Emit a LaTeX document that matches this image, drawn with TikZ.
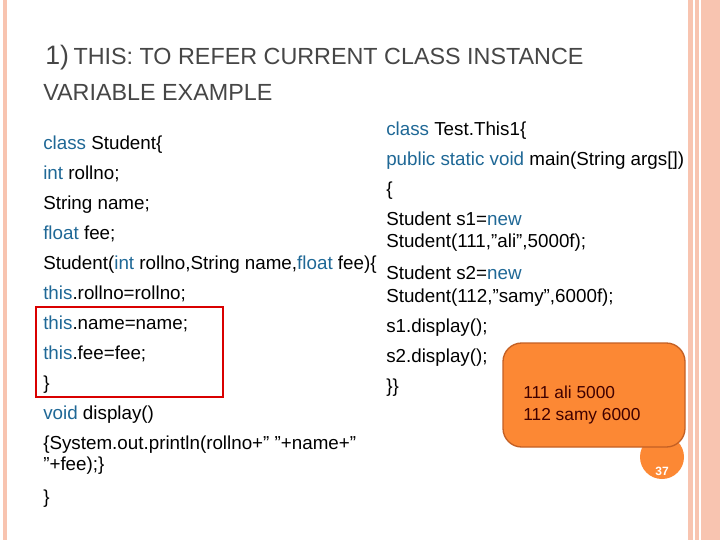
\documentclass[tikz,border=0pt]{standalone}
\usepackage{fontspec}
\setmainfont{Liberation Sans}
\usetikzlibrary{positioning}
\definecolor{kwblue}{RGB}{31,104,150}
\definecolor{titlegray}{RGB}{70,70,70}
\definecolor{peach}{RGB}{248,196,176}
\definecolor{outorange}{RGB}{252,136,52}
\definecolor{outedge}{RGB}{196,96,36}
\newcommand{\kw}[1]{\textcolor{kwblue}{#1}}
\newcommand{\q}{\symbol{34}}

\begin{document}
\begin{tikzpicture}[x=0.75pt,y=-0.75pt]
\tikzstyle{code}=[anchor=base west, inner sep=0pt, font=\fontsize{14.1}{16}\selectfont]
\tikzstyle{title}=[anchor=base west, inner sep=0pt, text=titlegray]
\tikzstyle{strip}=[fill=peach, draw=none]

  \useasboundingbox (0,0) rectangle (720,540);
  \fill[white] (0,0) rectangle (720,540);

  % side strips
  \fill[strip] (3,0) rectangle (7,540);
  \fill[strip] (688,0) rectangle (720,540);
  \draw[white, line width=0.8pt] (694,0) -- (694,540);
  \draw[white, line width=0.8pt] (700,0) -- (700,540);

  % title
  \node[title, font=\fontsize{20}{22}\selectfont] (num) at (45,64) {1)};
  \node[title, font=\fontsize{17.5}{20}\selectfont, right=3pt of num.base east, anchor=base west] (head) {THIS: TO REFER CURRENT CLASS INSTANCE};
  \node[title, font=\fontsize{17.5}{20}\selectfont] (head2) at (43,100) {VARIABLE EXAMPLE};

  % class Student
  \node[code] (l1)  at (43,149) {\kw{class} Student\{};
  \node[code] (l2)  at (43,179) {\kw{int} rollno;};
  \node[code] (l3)  at (43,209) {String name;};
  \node[code] (l4)  at (43,239) {\kw{float} fee;};
  \node[code] (l5)  at (43,269) {Student(\kw{int} rollno,String name,\kw{float} fee)\{};
  \node[code] (l6)  at (43,299) {\kw{this}.rollno=rollno;};
  \node[code] (l7)  at (43,329) {\kw{this}.name=name;};
  \node[code] (l8)  at (43,359) {\kw{this}.fee=fee;};
  \node[code] (l9)  at (43,389) {\}};
  \node[code] (l10) at (43,419) {\kw{void} display()};
  \node[code] (l11) at (43,449) {\{System.out.println(rollno+\q{} \q{}+name+\q};
  \node[code] (l12) at (43,470) {\q{}+fee);\}};
  \node[code] (l13) at (43,503) {\}};

  % class TestThis1
  \node[code] (r1)  at (386,135) {\kw{class} Test.This1\{};
  \node[code] (r2)  at (386,165) {\kw{public static void} main(String args[])};
  \node[code] (r3)  at (386,195) {\{};
  \node[code] (r4)  at (386,225) {Student s1=\kw{new}};
  \node[code] (r5)  at (386,247) {Student(111,\q{}ali\q{},5000f);};
  \node[code] (r6)  at (386,279) {Student s2=\kw{new}};
  \node[code] (r7)  at (386,302) {Student(112,\q{}samy\q{},6000f);};
  \node[code] (r8)  at (386,332) {s1.display();};
  \node[code] (r9)  at (386,362) {s2.display();};
  \node[code] (r10) at (386,392) {\}\}};

  % highlight
  \draw[red!85!black, line width=1.8pt] (36,307) rectangle (223,397);

  % output box
  \fill[outorange] (662,457) circle (22);
  \node[font=\bfseries\fontsize{9}{10}\selectfont, text=white] (page) at (662,471) {37};
  \draw[outedge, fill=outorange, line width=1pt, rounded corners=14pt] (503,343) rectangle (685,447);
  \node[code, text=black!75!red, font=\fontsize{13}{15}\selectfont] (o1) at (523,398) {111 ali 5000};
  \node[code, text=black!75!red, font=\fontsize{13}{15}\selectfont] (o2) at (523,420) {112 samy 6000};
\end{tikzpicture}
\end{document}
